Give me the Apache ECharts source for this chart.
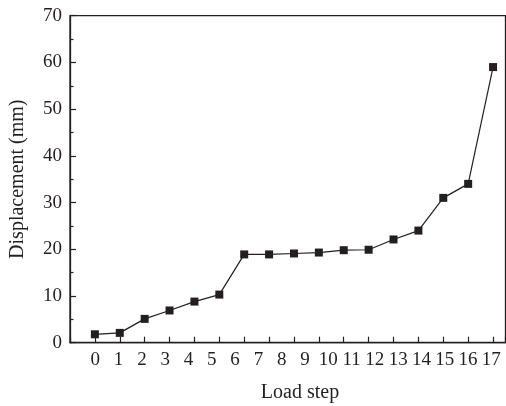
<!DOCTYPE html>
<html>
<head>
<meta charset="utf-8">
<script src="https://cdn.jsdelivr.net/npm/echarts@6/dist/echarts.min.js"></script>
<style>
  html, body { margin: 0; padding: 0; background: #fff; }
  #chart { width: 506px; height: 406px; }
</style>
</head>
<body>
<div id="chart"></div>
<script>
// measured points (17 markers)
var loadStep = [0, 1, 2, 3, 4, 5, 6, 7, 8, 9, 10, 11, 12, 13, 14, 15, 16];
var displacement = [1.8, 2.1, 5.1, 6.9, 8.8, 10.3, 18.9, 18.9, 19.1, 19.3, 19.8, 19.9, 22.1, 24.0, 31.0, 34.0, 59.0];
// tick labels printed under the axis
var xLabels = ['0', '1', '2', '3', '4', '5', '6', '7', '8', '9', '10', '11', '12', '13', '14', '15', '16', '17'];

var ink = '#231f20';
var font = 'Liberation Serif';

var points = [];
for (var i = 0; i < loadStep.length; i++) {
	points.push([loadStep[i], displacement[i]]);
}

var myChart = echarts.init(document.getElementById('chart'));

var option = {
	animation: false,
	title: {
		text: 'Load step',
		left: 295,
		top: 378,
		textAlign: 'center',
		textStyle: { fontFamily: font, fontSize: 20, fontWeight: 'normal', color: ink }
	},
	grid: [
		{ left: 70, top: 15.7, width: 435.5, height: 327, show: true, borderColor: ink, borderWidth: 1.3 },
		{ left: 72, top: 15.7, width: 434, height: 327 }
	],
	xAxis: [
		{
			type: 'value', gridIndex: 0, min: -1, max: 16.5, interval: 1,
			axisLine: { onZero: false, lineStyle: { color: ink, width: 1.3 } },
			axisTick: { inside: true, length: 6, lineStyle: { color: ink, width: 1.2 } },
			axisLabel: { show: false },
			splitLine: { show: false }
		},
		{
			type: 'value', gridIndex: 1, min: -1, max: 17.5, interval: 1,
			axisLine: { show: false, onZero: false },
			axisTick: { show: false },
			splitLine: { show: false },
			axisLabel: {
				margin: 8, color: ink, fontFamily: font, fontSize: 19,
				formatter: function (v) {
					return (v >= 0 && Number.isInteger(v) && xLabels[v] !== undefined) ? xLabels[v] : '';
				}
			}
		}
	],
	yAxis: [
		{
			type: 'value', gridIndex: 0, min: 0, max: 70, interval: 10,
			name: 'Displacement (mm)', nameLocation: 'middle', nameGap: 42,
			nameTextStyle: { fontFamily: font, fontSize: 20, color: ink },
			axisLine: { show: true, onZero: false, lineStyle: { color: ink, width: 1.3 } },
			axisTick: { inside: true, length: 6, lineStyle: { color: ink, width: 1.2 } },
			minorTick: { show: true, splitNumber: 2, length: 3.5, lineStyle: { color: ink, width: 1.2 } },
			axisLabel: { margin: 8, color: ink, fontFamily: font, fontSize: 19 },
			splitLine: { show: false }
		},
		{ type: 'value', gridIndex: 1, show: false }
	],
	series: [{
		type: 'line',
		xAxisIndex: 0,
		yAxisIndex: 0,
		data: points,
		symbol: 'rect',
		symbolSize: 8,
		itemStyle: { color: ink },
		lineStyle: { color: ink, width: 1.2 }
	}]
};

myChart.setOption(option);
</script>
</body>
</html>
